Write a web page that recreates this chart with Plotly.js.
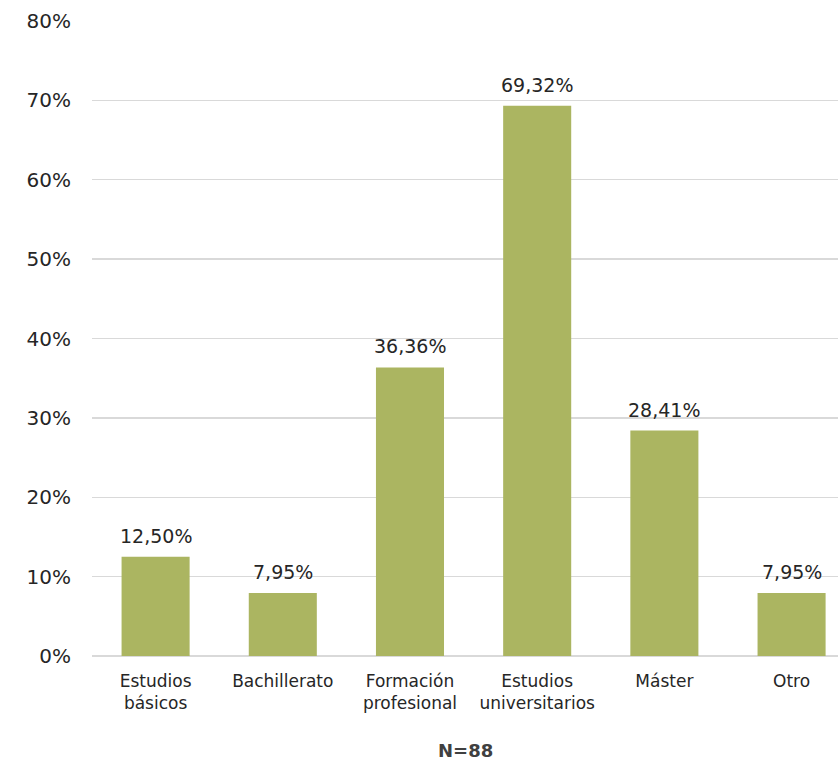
<!DOCTYPE html>
<html><head><meta charset="utf-8">
<script src="https://cdn.plot.ly/plotly-3.0.1.min.js"></script>
<style>html,body{margin:0;padding:0;background:#fff}#chart{width:838px;height:761px}</style>
</head><body><div id="chart"></div>
<script>
const categories = ["Estudios<br>básicos", "Bachillerato", "Formación<br>profesional", "Estudios<br>universitarios", "Máster", "Otro"];
const values = [12.50, 7.95, 36.36, 69.32, 28.41, 7.95];
const yTickVals = [0, 10, 20, 30, 40, 50, 60, 70, 80];
const yTickText = ["0%", "10%", "20%", "30%", "40%", "50%", "60%", "70%", "80%"];
const footnote = "N=88";

const fmt = v => v.toFixed(2).replace('.', ',') + '%';
const FONT = "'DejaVu Sans', sans-serif";

const trace = {
  type: 'bar',
  x: categories.map((c, i) => i),
  y: values,
  width: 0.535,
  marker: {color: '#ABB561'},
  hoverinfo: 'none',
  cliponaxis: false
};

const annotations = values.map((v, i) => ({
  x: i, y: v, xref: 'x', yref: 'y',
  text: fmt(v), showarrow: false,
  yanchor: 'bottom', yshift: 8,
  font: {family: FONT, size: 19, color: '#262626'}
}));
annotations.push({
  xref: 'paper', yref: 'paper', x: 0.5, y: 0, yshift: -94,
  xanchor: 'center', yanchor: 'middle',
  text: '<b>' + footnote + '</b>', showarrow: false,
  font: {family: FONT, size: 18, color: '#404040'}
});

const layout = {
  width: 838, height: 761,
  margin: {l: 92, r: 0, t: 21, b: 105},
  paper_bgcolor: '#fff', plot_bgcolor: '#fff',
  showlegend: false,
  xaxis: {
    range: [-0.5, 5.365],
    tickvals: categories.map((c, i) => i),
    ticktext: categories,
    showgrid: false, zeroline: false,
    showline: false,
    ticks: '',
    tickfont: {family: FONT, size: 17, color: '#262626'},
    ticklabelstandoff: 13,
    fixedrange: true
  },
  yaxis: {
    range: [0, 80],
    tickvals: yTickVals,
    ticktext: yTickText,
    showgrid: true, gridcolor: '#d9d9d9', gridwidth: 1.3,
    zeroline: true, zerolinecolor: '#d9d9d9', zerolinewidth: 1.3,
    ticks: '',
    tickfont: {family: FONT, size: 20, color: '#262626'},
    ticklabelstandoff: 20,
    fixedrange: true
  },
  annotations: annotations
};

Plotly.newPlot('chart', [trace], layout, {displayModeBar: false, staticPlot: true});
</script>
</body></html>
